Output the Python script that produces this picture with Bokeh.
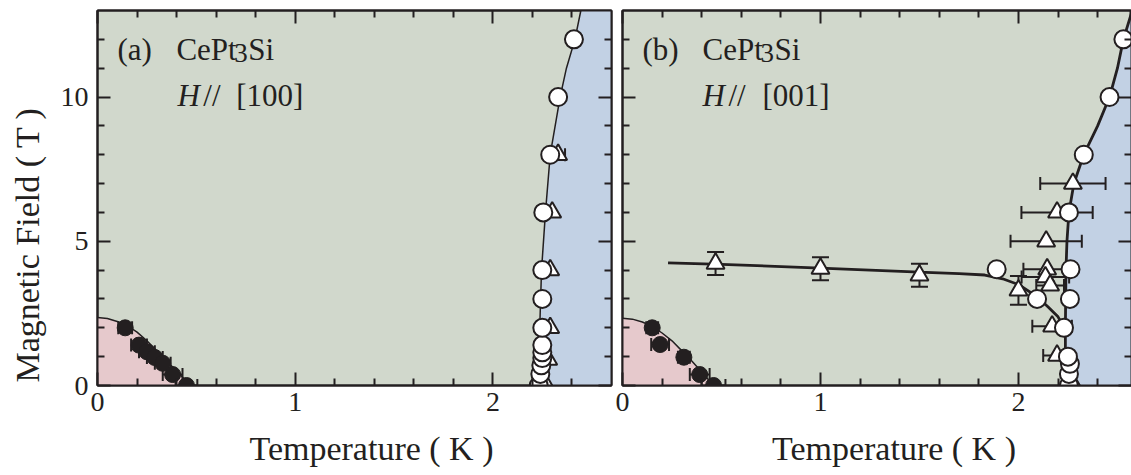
import math
from bokeh.plotting import figure
from bokeh.models import FixedTicker, LinearAxis, Label, CustomJSTickFormatter, Range1d
from bokeh.layouts import row
from bokeh.embed import file_html
from bokeh.resources import INLINE

# ---------------- data (Temperature K, Magnetic Field T) ----------------
# panel (a) H // [100]
a_fill_T = [0.14, 0.21, 0.25, 0.29, 0.33, 0.38, 0.45]
a_fill_H = [2.0, 1.4, 1.17, 0.97, 0.77, 0.38, 0.0]
a_fill_err = [0.035, 0.04, 0.04, 0.04, 0.04, 0.05, 0.055]

a_open_T = [2.232, 2.24, 2.245, 2.25, 2.25, 2.25, 2.25, 2.25, 2.25, 2.255, 2.29, 2.33, 2.41]
a_open_H = [0.0, 0.4, 0.7, 0.95, 1.15, 1.4, 2.0, 3.0, 4.0, 6.0, 8.0, 10.0, 12.0]

a_tri_T = [2.27, 2.28, 2.29, 2.29, 2.30, 2.33]
a_tri_H = [0.0, 0.9, 2.0, 4.0, 6.0, 8.0]
a_tri_err = [0.0, 0.0, 0.0, 0.0, 0.0, 0.035]

a_afm_T = [0.0, 0.05, 0.1, 0.15, 0.2, 0.25, 0.3, 0.35, 0.4, 0.47]
a_afm_H = [2.36, 2.32, 2.22, 2.08, 1.85, 1.55, 1.2, 0.85, 0.5, 0.0]

a_sc_T = [2.232, 2.237, 2.246, 2.266, 2.29, 2.34, 2.372, 2.415, 2.445]
a_sc_H = [0.0, 2.0, 4.0, 6.0, 8.0, 10.0, 11.0, 12.0, 13.0]

# panel (b) H // [001]
b_fill_T = [0.15, 0.19, 0.31, 0.39, 0.46]
b_fill_H = [2.0, 1.42, 0.98, 0.38, 0.0]
b_fill_err = [0.03, 0.045, 0.03, 0.05, 0.06]

b_open_T = [2.255, 2.255, 2.26, 2.25, 2.23, 2.26, 2.094, 2.263, 1.89, 2.255, 2.33, 2.46, 2.53]
b_open_H = [0.0, 0.4, 0.75, 1.0, 2.0, 3.0, 3.0, 4.03, 4.03, 6.0, 8.0, 10.0, 12.0]

b_triv_T = [0.47, 1.0, 1.5, 2.0]
b_triv_H = [4.23, 4.05, 3.82, 3.3]
b_triv_err = [0.4, 0.4, 0.4, 0.5]

b_trih_T = [2.275, 2.195, 2.14, 2.145, 2.136, 2.16, 2.17, 2.195, 2.28]
b_trih_H = [7.0, 6.0, 5.0, 4.03, 3.76, 3.47, 2.05, 1.04, 0.0]
b_trih_err = [0.165, 0.18, 0.18, 0.12, 0.12, 0.07, 0.1, 0.07, 0.0]

b_afm_T = [0.0, 0.05, 0.1, 0.15, 0.2, 0.25, 0.3, 0.35, 0.4, 0.46]
b_afm_H = [2.33, 2.3, 2.2, 2.05, 1.82, 1.55, 1.2, 0.85, 0.47, 0.0]

b_sc_T = [2.237, 2.237, 2.24, 2.245, 2.255, 2.28, 2.33, 2.40, 2.46, 2.50, 2.53, 2.575]
b_sc_H = [0.0, 2.0, 4.0, 5.0, 6.0, 7.0, 8.0, 9.0, 10.0, 11.0, 12.0, 13.0]

b_low_T = [0.23, 0.5, 1.0, 1.5, 1.7, 1.83, 1.92, 2.0, 2.09, 2.15, 2.2, 2.235]
b_low_H = [4.25, 4.2, 4.07, 3.93, 3.88, 3.83, 3.7, 3.5, 3.1, 2.72, 2.38, 1.95]

# ticks
x_major = [0, 1, 2]
x_minor = [0.2, 0.4, 0.6, 0.8, 1.2, 1.4, 1.6, 1.8, 2.2, 2.4]
y_major = [0, 5, 10]
y_minor = [1, 2, 3, 4, 6, 7, 8, 9, 11, 12]

NBSP = "\u00a0"
x_title = NBSP * 4 + "Temperature ( K )"
y_title = "Magnetic Field ( T )" + NBSP * 11

# ---------------- style ----------------
BLACK = "#231f20"
GREEN = "#d1d8cc"
PINK = "#e6c9cc"
BLUE = "#c2d1e4"
FONT = "Liberation Serif"
Y_MAX = 13.0
X_MAX_A = 2.6
X_MAX_B = 2.571
PX_K = 198.0
PX_T = 375.0 / 13.0


def style_axis(ax, xdir, labels):
    if xdir:
        ax.ticker = FixedTicker(ticks=x_major, minor_ticks=x_minor)
    else:
        ax.ticker = FixedTicker(ticks=y_major, minor_ticks=y_minor)
    ax.axis_line_color = BLACK
    ax.axis_line_width = 2
    ax.major_tick_line_color = BLACK
    ax.major_tick_line_width = 2
    ax.minor_tick_line_color = BLACK
    ax.minor_tick_line_width = 2
    ax.major_tick_in = 13
    ax.major_tick_out = 0
    ax.minor_tick_in = 7
    ax.minor_tick_out = 0
    ax.major_label_text_font = FONT
    ax.major_label_text_font_size = "28px"
    ax.major_label_text_color = BLACK
    ax.axis_label_text_font = FONT
    ax.axis_label_text_font_size = "34px"
    ax.axis_label_text_font_style = "normal"
    ax.axis_label_text_color = BLACK
    if labels:
        ax.major_label_standoff = 7 if xdir else 9
    else:
        ax.formatter = CustomJSTickFormatter(code="return ''")
        ax.major_label_standoff = 0


def make_fig(width, xmax, left, right, ylabels):
    p = figure(width=width, height=475, x_range=Range1d(0, xmax), y_range=Range1d(0, Y_MAX),
               output_backend="svg", toolbar_location=None,
               min_border_left=left, min_border_right=right, min_border_top=10,
               min_border_bottom=90, background_fill_color=GREEN,
               border_fill_color="white", outline_line_color=BLACK, outline_line_width=2)
    p.xgrid.visible = False
    p.ygrid.visible = False
    style_axis(p.xaxis[0], True, True)
    style_axis(p.yaxis[0], False, ylabels)
    p.xaxis[0].axis_label = x_title
    p.xaxis[0].axis_label_standoff = 16
    top = LinearAxis()
    style_axis(top, True, False)
    p.add_layout(top, "above")
    rgt = LinearAxis()
    style_axis(rgt, False, False)
    p.add_layout(rgt, "right")
    return p


def text(p, s, dx, dy, size, style="normal"):
    p.add_layout(Label(x=dx / PX_K, y=Y_MAX - dy / PX_T, text=s, text_font=FONT,
                       text_font_size=f"{size}px", text_font_style=style, text_color=BLACK,
                       text_align="left", text_baseline="alphabetic"))


def herr(p, T, H, E, cap=13):
    sel = [(t, h, e) for t, h, e in zip(T, H, E) if e > 0]
    lo = [t - e for t, h, e in sel]
    hi = [t + e for t, h, e in sel]
    hh = [h for t, h, e in sel]
    p.segment(x0=lo, y0=hh, x1=hi, y1=hh, line_color=BLACK, line_width=2)
    p.scatter(x=lo + hi, y=hh + hh, marker="dash", angle=math.pi / 2, size=cap,
              line_color=BLACK, line_width=2)


def verr(p, T, H, E, cap=17):
    lo = [h - e for h, e in zip(H, E)]
    hi = [h + e for h, e in zip(H, E)]
    p.segment(x0=T, y0=lo, x1=T, y1=hi, line_color=BLACK, line_width=2)
    p.scatter(x=list(T) + list(T), y=lo + hi, marker="dash", size=cap,
              line_color=BLACK, line_width=2)


def open_c(p, T, H):
    p.scatter(x=T, y=H, marker="circle", size=18, fill_color="white",
              line_color=BLACK, line_width=2)


def tri(p, T, H):
    p.scatter(x=T, y=H, marker="triangle", size=18, fill_color="white",
              line_color=BLACK, line_width=2)


def filled(p, T, H):
    p.scatter(x=T, y=H, marker="circle", size=16, fill_color=BLACK,
              line_color=BLACK, line_width=1)


# ---------------- panel (a) ----------------
pa = make_fig(614, X_MAX_A, 97, 3, True)
pa.yaxis[0].axis_label = y_title
pa.yaxis[0].axis_label_standoff = 12
pa.patch(x=a_afm_T + [0.0], y=a_afm_H + [0.0], fill_color=PINK, line_color=None)
pa.patch(x=a_sc_T + [X_MAX_A, X_MAX_A], y=a_sc_H + [Y_MAX, 0.0], fill_color=BLUE, line_color=None)
pa.line(a_afm_T, a_afm_H, line_color=BLACK, line_width=1.5)
pa.line(a_sc_T, a_sc_H, line_color=BLACK, line_width=1.5)
herr(pa, a_fill_T, a_fill_H, a_fill_err)
herr(pa, a_tri_T, a_tri_H, a_tri_err)
tri(pa, a_tri_T, a_tri_H)
open_c(pa, a_open_T, a_open_H)
filled(pa, a_fill_T, a_fill_H)

text(pa, "(a)", 20, 39, 31)
text(pa, "CePt", 79, 39, 31)
text(pa, "3", 137, 42, 27)
text(pa, "Si", 151, 39, 31)
text(pa, "H", 80, 85, 31, style="italic")
text(pa, "//", 106, 85, 31)
text(pa, "[100]", 139, 85, 31)

# ---------------- panel (b) ----------------
pb = make_fig(517, X_MAX_B, 8, 0, False)
pb.patch(x=b_afm_T + [0.0], y=b_afm_H + [0.0], fill_color=PINK, line_color=None)
pb.patch(x=b_sc_T + [2.7, 2.7], y=b_sc_H + [Y_MAX, 0.0], fill_color=BLUE, line_color=None)
pb.line(b_afm_T, b_afm_H, line_color=BLACK, line_width=1.5)
pb.line(b_sc_T, b_sc_H, line_color=BLACK, line_width=2.8)
pb.line(b_low_T, b_low_H, line_color=BLACK, line_width=2.8)
herr(pb, b_fill_T, b_fill_H, b_fill_err)
herr(pb, b_trih_T, b_trih_H, b_trih_err)
verr(pb, b_triv_T, b_triv_H, b_triv_err)
tri(pb, b_triv_T, b_triv_H)
tri(pb, b_trih_T, b_trih_H)
open_c(pb, b_open_T, b_open_H)
filled(pb, b_fill_T, b_fill_H)

text(pb, "(b)", 20, 39, 31)
text(pb, "CePt", 80, 39, 31)
text(pb, "3", 138, 42, 27)
text(pb, "Si", 152, 39, 31)
text(pb, "H", 80, 85, 31, style="italic")
text(pb, "//", 106, 85, 31)
text(pb, "[001]", 140, 85, 31)

layout = row(pa, pb, spacing=0)
open("out.html", "w").write(file_html(layout, INLINE))
